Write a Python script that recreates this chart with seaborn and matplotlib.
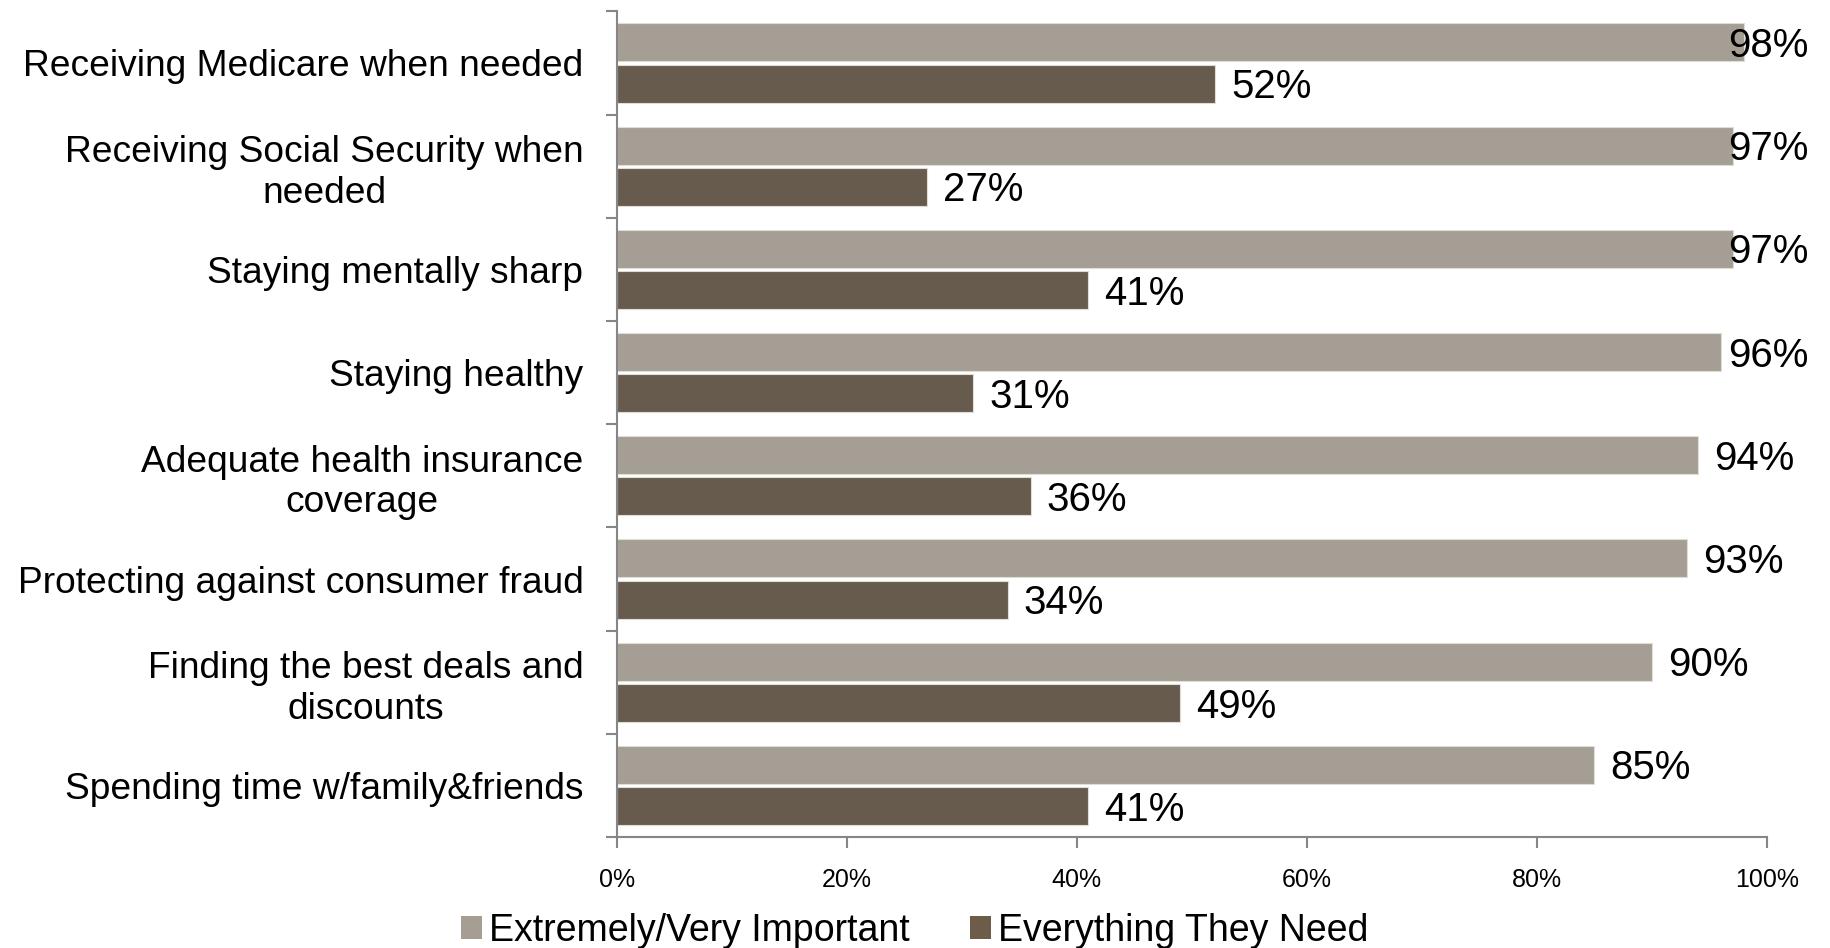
import matplotlib
matplotlib.use("Agg")
import matplotlib.pyplot as plt
import seaborn as sns
import pandas as pd
from matplotlib.ticker import FixedLocator, PercentFormatter
from matplotlib.patches import Patch

categories = [
    "Receiving Medicare when needed",
    "Receiving Social Security when\nneeded",
    "Staying mentally sharp",
    "Staying healthy",
    "Adequate health insurance\ncoverage",
    "Protecting against consumer fraud",
    "Finding the best deals and\ndiscounts",
    "Spending time w/family&friends",
]
series_names = ["Extremely/Very Important", "Everything They Need"]
important = [98, 97, 97, 96, 94, 93, 90, 85]
need = [52, 27, 41, 31, 36, 34, 49, 41]
colors = ["#A69E93", "#6C5C48"]
xticks = [0, 0.2, 0.4, 0.6, 0.8, 1.0]

rows = []
for c, a, b in zip(categories, important, need):
    rows.append({"cat": c, "series": series_names[0], "val": a / 100})
    rows.append({"cat": c, "series": series_names[1], "val": b / 100})
df = pd.DataFrame(rows)

sns.set_style("white")
plt.rcParams["font.family"] = ["Liberation Sans", "DejaVu Sans"]
plt.rcParams["text.color"] = "black"
plt.rcParams["xtick.labelcolor"] = "black"
plt.rcParams["ytick.labelcolor"] = "black"

fig = plt.figure(figsize=(18.3, 9.48), dpi=100)
ax = fig.add_axes([0.337, 0.117, 0.6286, 0.871])

sns.barplot(data=df, y="cat", x="val", hue="series", order=categories,
            hue_order=series_names, palette=colors, orient="h",
            width=0.8, gap=0.08, dodge=True, ax=ax, legend=False,
            edgecolor="#E0DDD8", linewidth=0.8, errorbar=None)

ax.set_xlim(0, 1.0)
ax.set_ylim(len(categories) - 0.5, -0.5)
ax.set_xlabel("")
ax.set_ylabel("")

for s in ["top", "right"]:
    ax.spines[s].set_visible(False)
for s in ["left", "bottom"]:
    ax.spines[s].set_color("#868686")
    ax.spines[s].set_linewidth(1.5)

ax.xaxis.set_major_locator(FixedLocator(xticks))
ax.xaxis.set_major_formatter(PercentFormatter(1.0, decimals=0))
ax.tick_params(axis="x", which="major", direction="out", length=8, width=1.5,
               color="#868686", labelsize=18, pad=14, bottom=True,
               labelcolor="black")

ax.set_yticks(range(len(categories)))
ax.set_yticklabels(categories, fontsize=26.7, multialignment="center",
                   color="black")
ax.tick_params(axis="y", which="major", length=0, pad=24, left=True)
ax.yaxis.set_minor_locator(FixedLocator([i - 0.5 for i in range(len(categories) + 1)]))
ax.tick_params(axis="y", which="minor", direction="out", length=8, width=1.5,
               color="#868686", left=True)
for lbl in ax.get_yticklabels():
    lbl.set_y(lbl.get_position()[1])

# value labels
limit = 1.036
est_w = 0.0704
offsets = [-0.2, 0.2]
for i in range(len(categories)):
    for j, vals in enumerate([important, need]):
        v = vals[i] / 100
        y = i + offsets[j] + 0.035
        if v + 0.014 + est_w > limit:
            ax.text(limit, y, f"{vals[i]}%", ha="right", va="center",
                    fontsize=29, clip_on=False, color="black")
        else:
            ax.text(v + 0.014, y, f"{vals[i]}%", ha="left", va="center",
                    fontsize=29, clip_on=False, color="black")

handles = [Patch(facecolor=c, edgecolor="none") for c in colors]
fig.legend(handles, series_names, loc="center", bbox_to_anchor=(0.5, 0.018),
           ncol=2, frameon=False, fontsize=27, handlelength=0.55,
           handleheight=0.55, handletextpad=0.2, columnspacing=1.6,
           borderaxespad=0, borderpad=0, labelcolor="black")

fig.savefig("out.png", dpi=100)
